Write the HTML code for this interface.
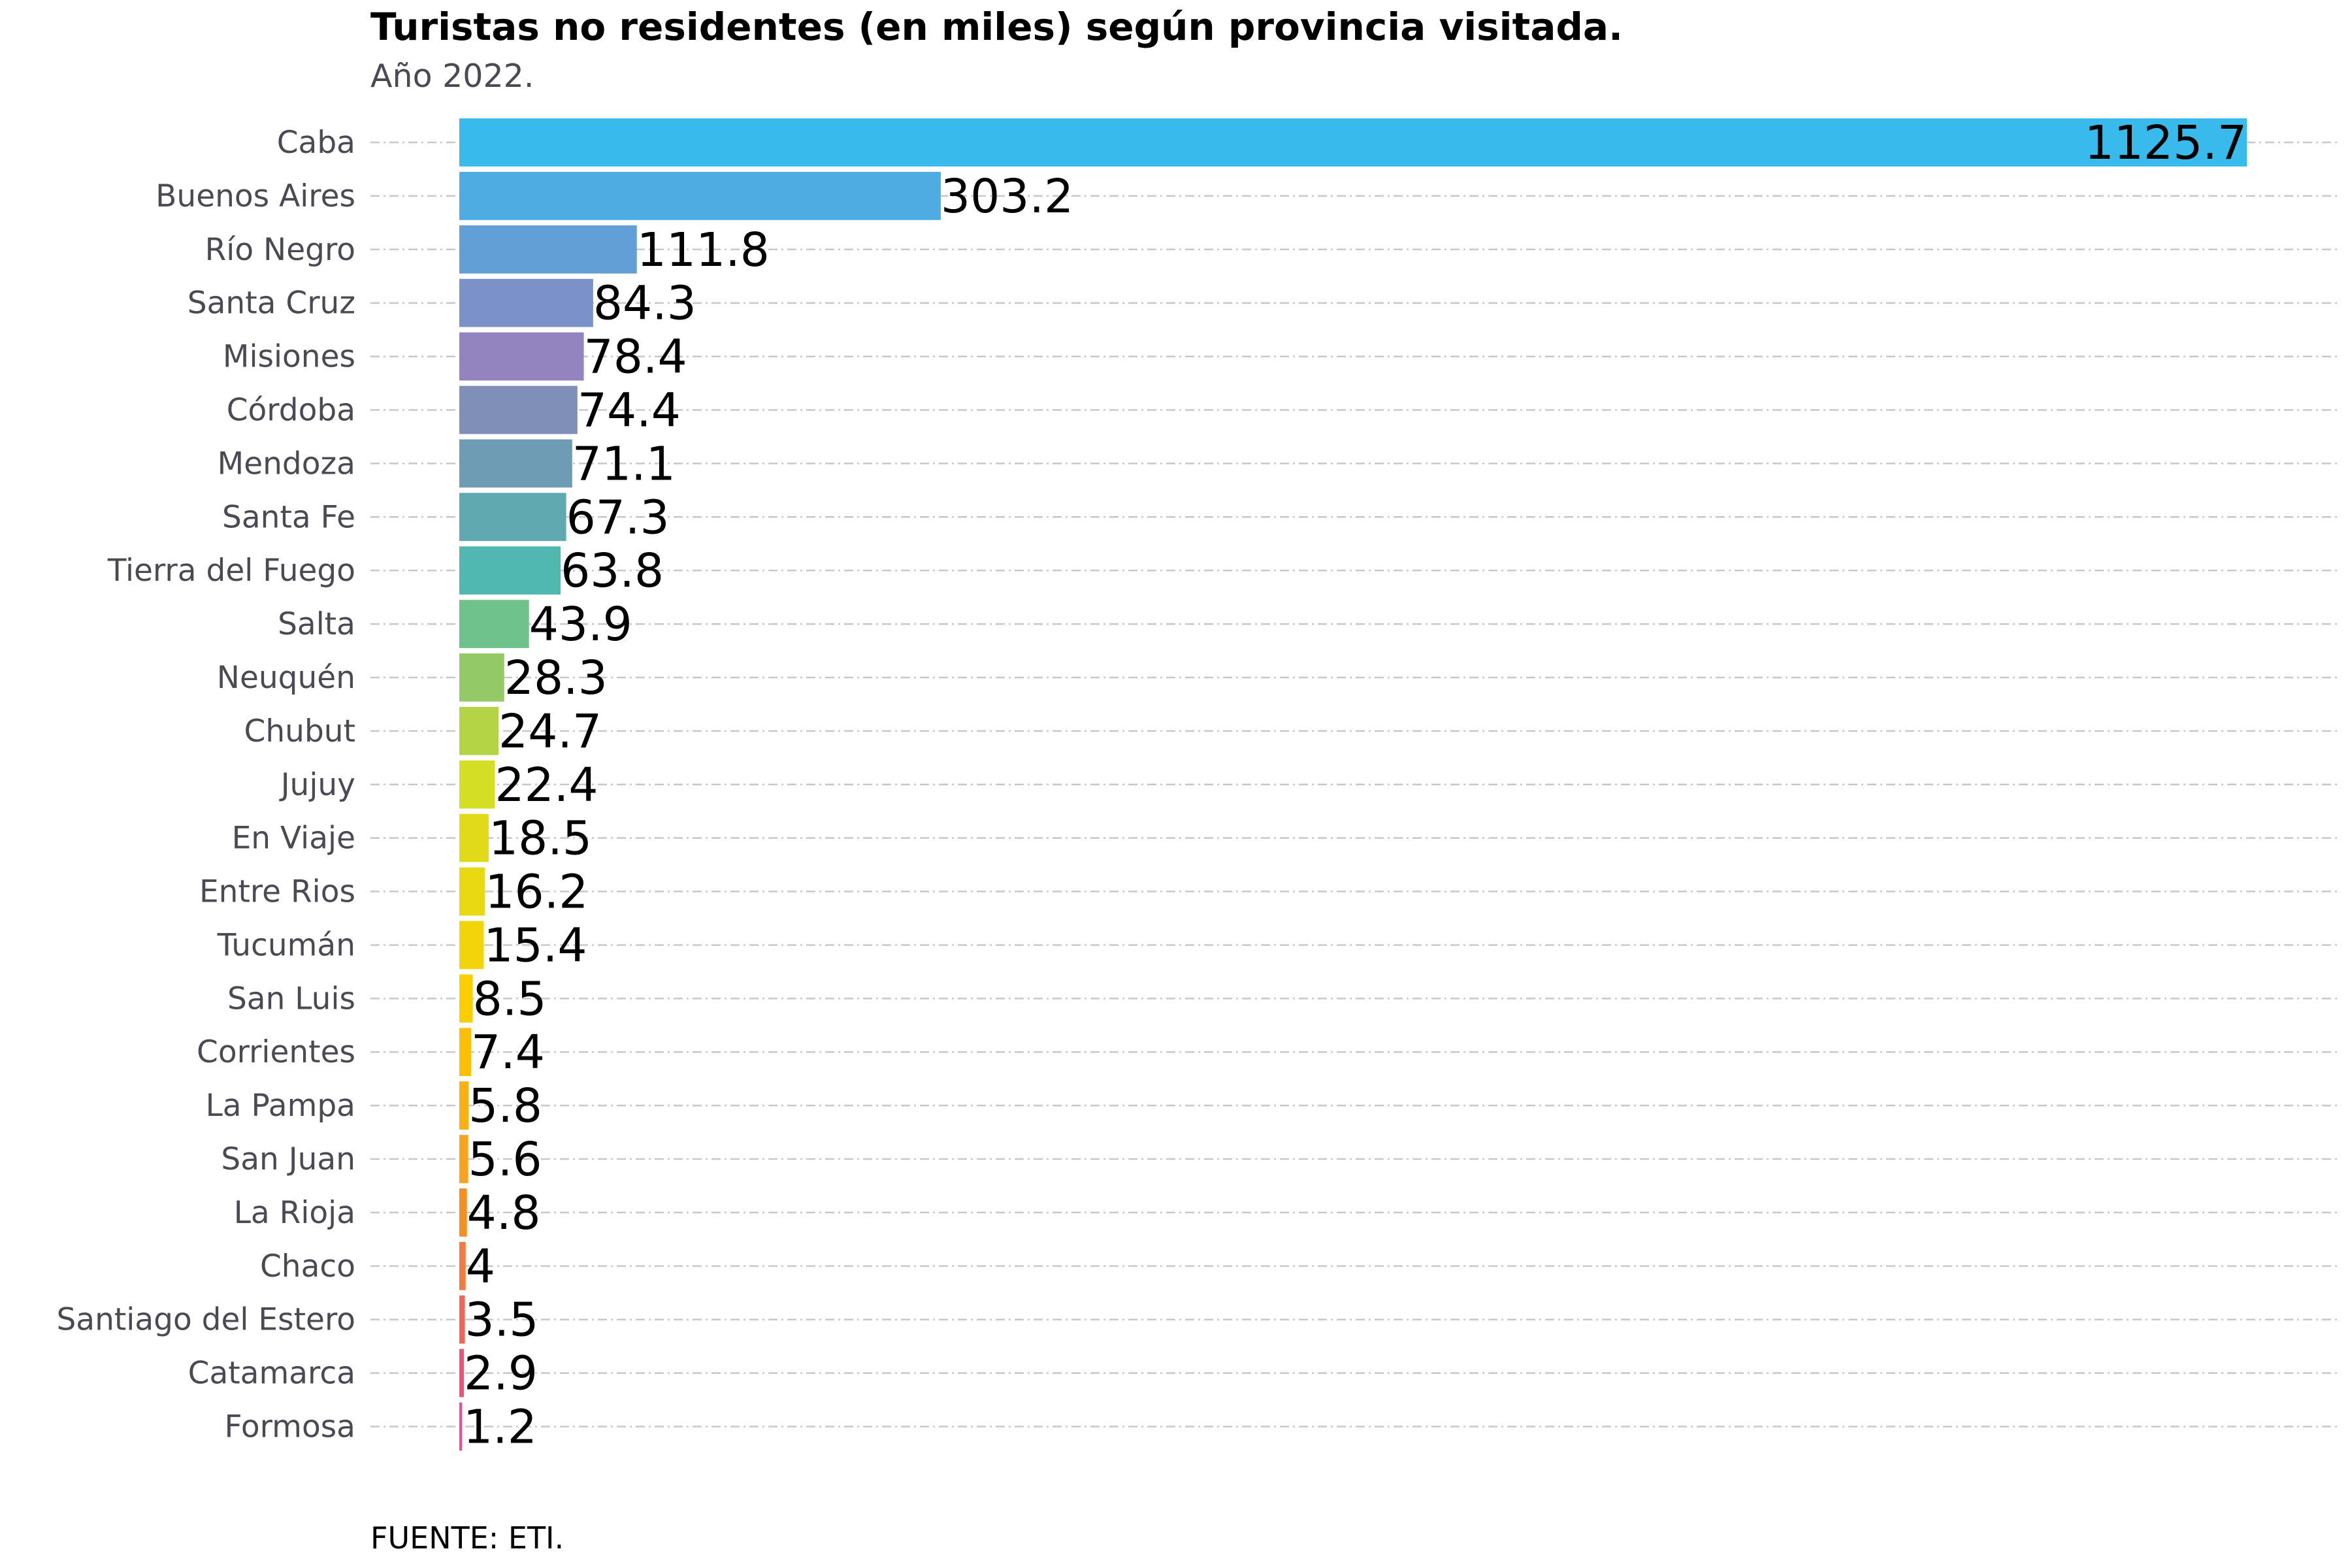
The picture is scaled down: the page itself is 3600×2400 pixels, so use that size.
<!DOCTYPE html>
<html><head><meta charset="utf-8"><style>
html,body{margin:0;padding:0;background:#fff;}
svg{display:block;font-family:"DejaVu Sans","Liberation Sans",sans-serif;}
</style></head><body>
<svg id="chart" width="3600" height="2400" viewBox="0 0 3600 2400" xmlns="http://www.w3.org/2000/svg">
<text x="567" y="61" font-size="58" font-weight="bold" fill="#000">Turistas no residentes (en miles) según provincia visitada.</text>
<text x="567" y="133" font-size="49" fill="#4a4a55">Año 2022.</text>
<text x="567" y="2370" font-size="46" fill="#000">FUENTE: ETI.</text>
<g id="grid"></g><g id="bars"></g><g id="labels"></g>
</svg>
<script>
const categories=["Caba","Buenos Aires","Río Negro","Santa Cruz","Misiones","Córdoba","Mendoza","Santa Fe","Tierra del Fuego","Salta","Neuquén","Chubut","Jujuy","En Viaje","Entre Rios","Tucumán","San Luis","Corrientes","La Pampa","San Juan","La Rioja","Chaco","Santiago del Estero","Catamarca","Formosa"];
const values=[1125.7,303.2,111.8,84.3,78.4,74.4,71.1,67.3,63.8,43.9,28.3,24.7,22.4,18.5,16.2,15.4,8.5,7.4,5.8,5.6,4.8,4,3.5,2.9,1.2];
const valueLabels=["1125.7","303.2","111.8","84.3","78.4","74.4","71.1","67.3","63.8","43.9","28.3","24.7","22.4","18.5","16.2","15.4","8.5","7.4","5.8","5.6","4.8","4","3.5","2.9","1.2"];
const colors=["#38bbec","#4eace2","#629fd6","#7a92c9","#9383bf","#7f8fb8","#6e9cb4","#60a9b0","#50b8ae","#6fc28a","#93ca65","#b5d445","#d4de25","#e0da1a","#e9d912","#f2d40a","#fbce00","#fbbf08","#f9b012","#f7a31b","#f68f22","#f47a3e","#f2665a","#f05275","#ee4a90"];
const NS="http://www.w3.org/2000/svg";
const x0=703,x1=3439,vmax=1125.7;
const xScale=v=>x0+(v/vmax)*(x1-x0);
const y0=218,step=(2183.5-218)/24;
const yScale=i=>y0+i*step;
const bh=step*0.9;
const grid=document.getElementById('grid'),bars=document.getElementById('bars'),labels=document.getElementById('labels');
categories.forEach((c,i)=>{
  const y=yScale(i);
  const g=document.createElementNS(NS,'line');
  
  
  g.setAttribute('x1',567);g.setAttribute('x2',3577);g.setAttribute('y1',y);g.setAttribute('y2',y);
  g.setAttribute('stroke','#c8c8c8');g.setAttribute('stroke-width','2.5');g.setAttribute('stroke-dasharray','14 6 3 6');
  grid.appendChild(g);
  const t=document.createElementNS(NS,'text');
  
  
  t.setAttribute('x',544);t.setAttribute('y',y+16);t.setAttribute('text-anchor','end');
  t.setAttribute('font-size','47');t.setAttribute('fill','#4a4a55');t.textContent=c;
  labels.appendChild(t);
  const r=document.createElementNS(NS,'rect');
  
  
  r.setAttribute('x',x0);r.setAttribute('y',y-bh/2);
  r.setAttribute('width',Math.max(xScale(values[i])-x0,4));r.setAttribute('height',bh);
  r.setAttribute('fill',colors[i]);
  bars.appendChild(r);
  const v=document.createElementNS(NS,'text');
  
  
  const xe=xScale(values[i]);
  if(i===0){v.setAttribute('x',xe);v.setAttribute('text-anchor','end');}
  else{v.setAttribute('x',Math.max(xe,x0+6));}
  v.setAttribute('y',y+25);v.setAttribute('font-size','71');v.setAttribute('fill','#000');
  v.textContent=valueLabels[i];
  labels.appendChild(v);
});
</script>
</body></html>
